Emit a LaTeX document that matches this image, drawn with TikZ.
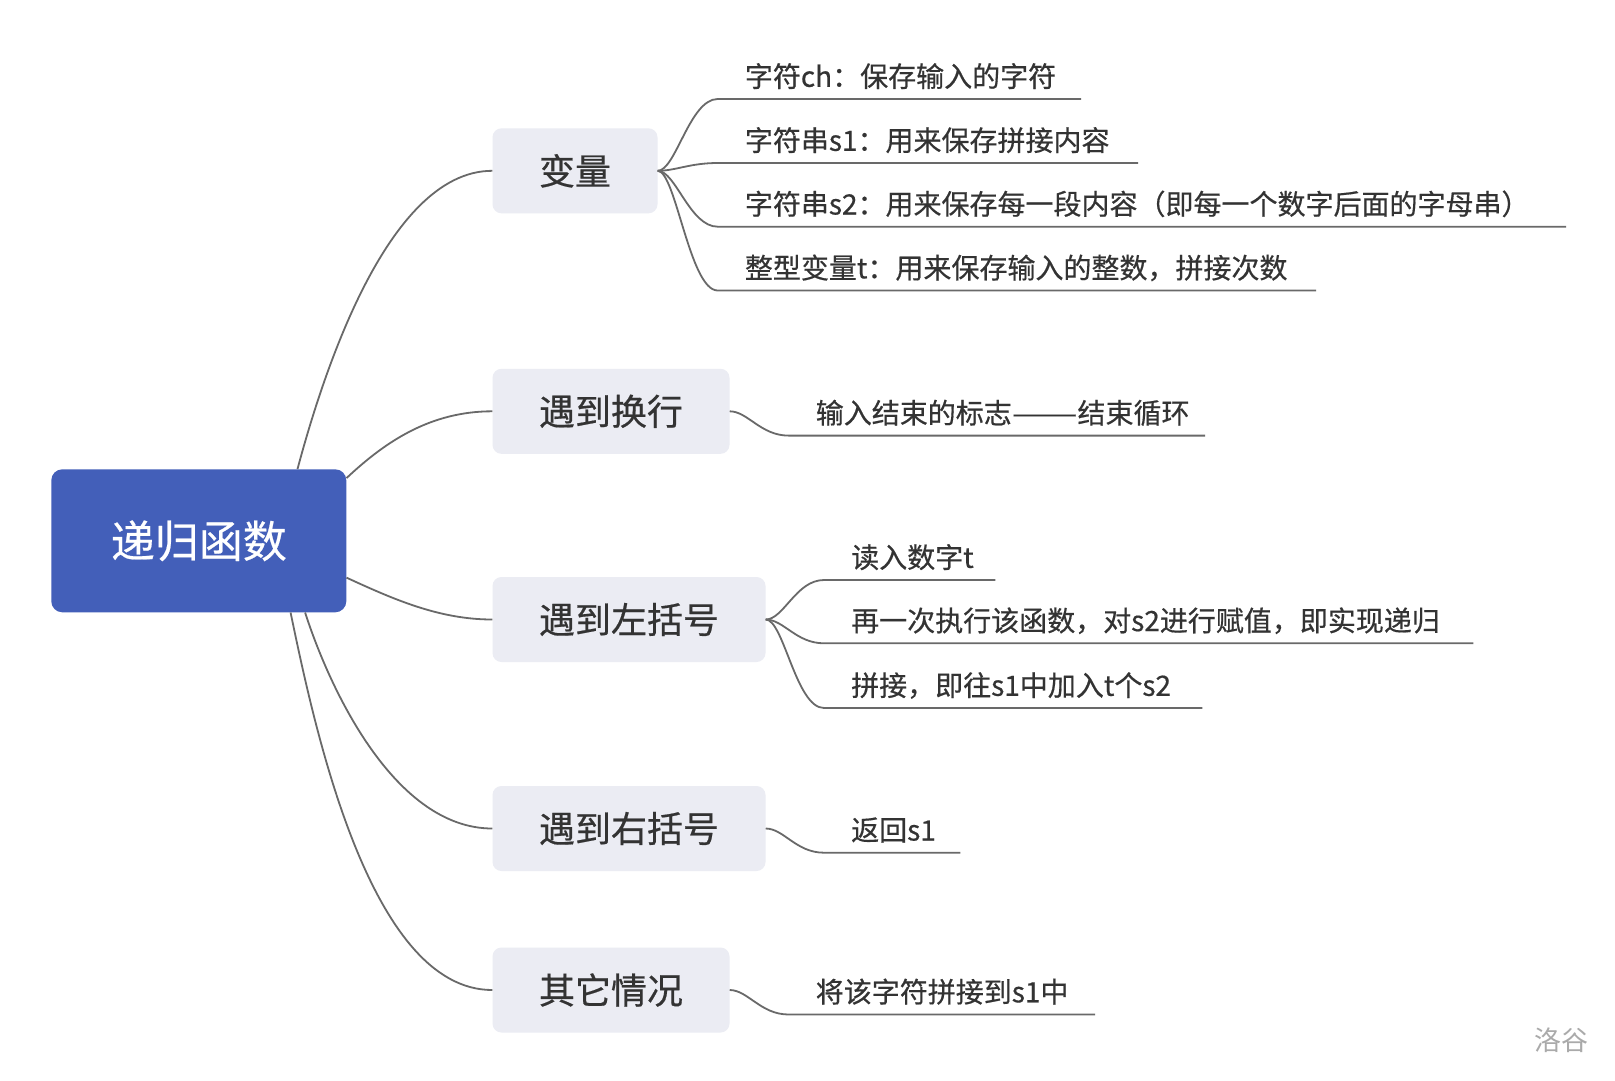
\documentclass[tikz,border=0pt]{standalone}
\usepackage{fontspec}
\usepackage{graphicx}
\setmainfont{Noto Sans CJK SC}[FakeBold=0.5]
\newfontfamily\wmfont{Noto Sans CJK SC}
\definecolor{rootblue}{RGB}{67,95,185}
\definecolor{topicfill}{RGB}{235,236,243}
\definecolor{textgray}{RGB}{51,51,51}
\definecolor{linegray}{RGB}{105,105,105}
\definecolor{wmgray}{RGB}{170,170,170}
\begin{document}
\begin{tikzpicture}[x=1pt,y=-1pt,
  conn/.style={draw=linegray, line width=1.8pt},
  rootbox/.style={rectangle, rounded corners=11pt, fill=rootblue, text=white,
    minimum width=295pt, minimum height=143pt, inner sep=0pt,
    font=\fontsize{44}{50}\selectfont},
  topic/.style={rectangle, rounded corners=9pt, fill=topicfill, text=textgray,
    anchor=west, minimum height=85pt, inner xsep=46.5pt, inner ysep=0pt,
    font=\fontsize{36}{42}\selectfont},
  leaf/.style={anchor=south west, inner sep=0pt, text=textgray,
    text height=28pt, text depth=12pt, font=\fontsize{28}{34}\selectfont},
]
\fill[white] (0,0) rectangle (1615,1080);
\useasboundingbox (0,0) rectangle (1615,1080);

% root
\node[rootbox] (root) at (198.8,540.8) {递归函数};

% topics
\node[topic] (p1) at (492.3,170.8) {变量};
\node[topic] (p2) at (492.3,411.3) {遇到换行};
\node[topic] (p3) at (492.3,619.5) {遇到左括号};
\node[topic] (p4) at (492.3,828.5) {遇到右括号};
\node[topic] (p5) at (492.3,990) {其它情况};

% leaves
\node[leaf] (l1) at (717.7,99) {\makebox[363pt][l]{\hspace*{27pt}字符ch：保存输入的字符}};
\node[leaf] (l2) at (717.7,163) {\makebox[420pt][l]{\hspace*{27pt}字符串s1：用来保存拼接内容}};
\node[leaf] (l3) at (717.7,226.7) {\makebox[848pt][l]{\hspace*{27pt}字符串s2：用来保存每一段内容（即每一个数字后面的字母串）}};
\node[leaf] (l4) at (717.7,290.5) {\makebox[598pt][l]{\hspace*{27pt}整型变量t：用来保存输入的整数，拼接次数}};
\node[leaf] (l5) at (788.6,435.6) {\makebox[416pt][l]{\hspace*{27pt}输入结束的标志\scalebox{1.4}[1]{——}结束循环}};
\node[leaf] (l6) at (824,580) {\makebox[171pt][l]{\hspace*{27pt}读入数字t}};
\node[leaf] (l7) at (824,643.3) {\makebox[649pt][l]{\hspace*{27pt}再一次执行该函数，对s2进行赋值，即实现递归}};
\node[leaf] (l8) at (824,708) {\makebox[378pt][l]{\hspace*{27pt}拼接，即往s1中加入t个s2}};
\node[leaf] (l9) at (824,852.7) {\makebox[136pt][l]{\hspace*{27pt}返回s1}};
\node[leaf] (l10) at (788.6,1014.5) {\makebox[306pt][l]{\hspace*{27pt}将该字符拼接到s1中}};

% root connectors
\draw[conn] (root.36.9) .. controls (320,385) and (385,170.8) .. (p1.west);
\draw[conn] (root.23.4) .. controls (385,442) and (430,411.3) .. (p2.west);
\draw[conn] (root.-14.2) .. controls (395,600) and (440,619.5) .. (p3.west);
\draw[conn] (root.-34.5) .. controls (330,690) and (395,828.5) .. (p4.west);
\draw[conn] (root.-38.9) .. controls (315,730) and (370,990) .. (p5.west);

% leaf connectors
\foreach \p/\l in {p1/l1,p1/l2,p1/l3,p1/l4,p2/l5,p3/l6,p3/l7,p3/l8,p4/l9,p5/l10}{
  \draw[conn] (\p.east) .. controls +(18,0) and +(-28,0) .. (\l.south west) -- (\l.south east);
}

% watermark
\node[text=wmgray, font=\wmfont\fontsize{27}{30}\selectfont] (wm) at (1561,1040) {洛谷};
\end{tikzpicture}
\end{document}
